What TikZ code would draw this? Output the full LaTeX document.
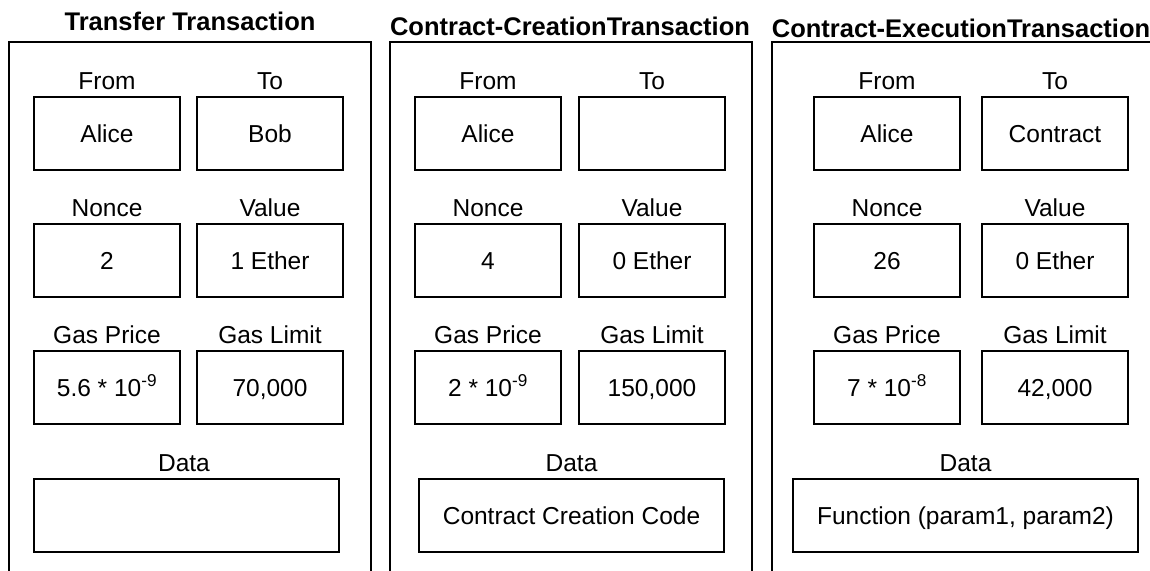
\documentclass[tikz,border=0pt]{standalone}
\usepackage{fontspec}
\setmainfont{Liberation Sans}
\usetikzlibrary{positioning}

\begin{document}
\begin{tikzpicture}[x=1pt,y=-1pt,
	field/.style={draw, line width=1.3pt, minimum width=146pt, minimum height=73pt, inner sep=0pt,
		text height=17pt, text depth=0pt, font=\fontsize{24.5}{28}\selectfont},
	datafield/.style={field, minimum width=305pt},
	fieldname/.style={inner sep=0pt, font=\fontsize{24.5}{28}\selectfont},
	txtitle/.style={inner sep=0pt, font=\fontsize{25.5}{30}\selectfont\bfseries},
	panel/.style={draw, line width=1.3pt}]
	\useasboundingbox (0,0) rectangle (1150,570);
	\clip (0,0) rectangle (1150,570);

	% transfer
	\node [txtitle] (T1) at (190,21.5) {Transfer Transaction};
	\draw [panel] (9,42) rectangle (371,620);
	\node [fieldname] (fromA) at (107,81) {From};
	\node [fieldname] (toA) at (270,81) {To};
	\node [field] (fromAv) at (107,133.5) {Alice};
	\node [field] (toAv) at (270,133.5) {Bob};
	\node [fieldname] (nonceA) at (107,208) {Nonce};
	\node [fieldname] (valueA) at (270,208) {Value};
	\node [field] (nonceAv) at (107,260.5) {2};
	\node [field] (valueAv) at (270,260.5) {1 Ether};
	\node [fieldname] (priceA) at (107,335) {Gas Price};
	\node [fieldname] (limitA) at (270,335) {Gas Limit};
	\node [field] (priceAv) at (107,387.5) {5.6 * 10\textsuperscript{-9}};
	\node [field] (limitAv) at (270,387.5) {70,000};
	\node [fieldname] (dataA) at (184,463) {Data};
	\node [datafield] (dataAv) at (186.5,515.5) {};

	% contract creation
	\node [txtitle] (T2) at (570,26.5) {Contract-CreationTransaction};
	\draw [panel] (390,42) rectangle (752,620);
	\node [fieldname] (fromB) at (488,81) {From};
	\node [fieldname] (toB) at (652,81) {To};
	\node [field] (fromBv) at (488,133.5) {Alice};
	\node [field] (toBv) at (652,133.5) {};
	\node [fieldname] (nonceB) at (488,208) {Nonce};
	\node [fieldname] (valueB) at (652,208) {Value};
	\node [field] (nonceBv) at (488,260.5) {4};
	\node [field] (valueBv) at (652,260.5) {0 Ether};
	\node [fieldname] (priceB) at (488,335) {Gas Price};
	\node [fieldname] (limitB) at (652,335) {Gas Limit};
	\node [field] (priceBv) at (488,387.5) {2 * 10\textsuperscript{-9}};
	\node [field] (limitBv) at (652,387.5) {150,000};
	\node [fieldname] (dataB) at (571.5,463) {Data};
	\node [datafield] (dataBv) at (571.5,515.5) {Contract Creation Code};

	% contract execution
	\node [txtitle] (T3) at (961,28) {Contract-ExecutionTransaction};
	\draw [panel] (772,42) rectangle (1180,620);
	\node [fieldname] (fromC) at (887,81) {From};
	\node [fieldname] (toC) at (1055,81) {To};
	\node [field] (fromCv) at (887,133.5) {Alice};
	\node [field] (toCv) at (1055,133.5) {Contract};
	\node [fieldname] (nonceC) at (887,208) {Nonce};
	\node [fieldname] (valueC) at (1055,208) {Value};
	\node [field] (nonceCv) at (887,260.5) {26};
	\node [field] (valueCv) at (1055,260.5) {0 Ether};
	\node [fieldname] (priceC) at (887,335) {Gas Price};
	\node [fieldname] (limitC) at (1055,335) {Gas Limit};
	\node [field] (priceCv) at (887,387.5) {7 * 10\textsuperscript{-8}};
	\node [field] (limitCv) at (1055,387.5) {42,000};
	\node [fieldname] (dataC) at (965.5,463) {Data};
	\node [datafield, minimum width=345pt] (dataCv) at (965.5,515.5) {Function (param1, param2)};
\end{tikzpicture}
\end{document}
